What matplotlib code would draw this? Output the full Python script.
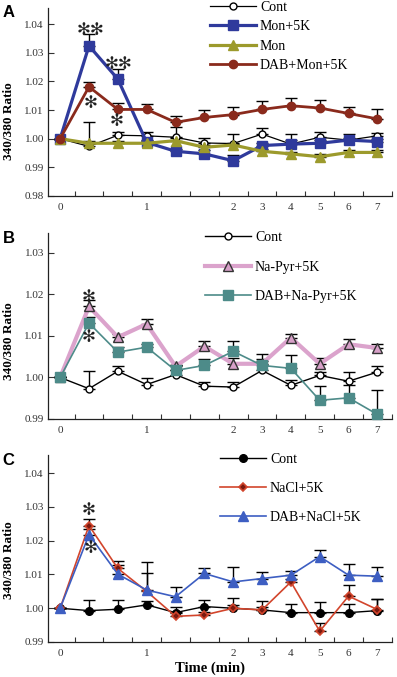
#!/usr/bin/env python3
"""340/380 ratio time courses, three panels (A, B, C)."""

import matplotlib

matplotlib.use("Agg")
import matplotlib.pyplot as plt
import numpy as np

TIME_MIN = [0, 1 / 3, 2 / 3, 1, 4 / 3, 5 / 3, 2, 3, 4, 5, 6, 7]
TIME_LABELS = ["0", "", "", "1", "", "", "2", "3", "4", "5", "6", "7"]

# Panel A
A_CONT = [1.000, 0.9973, 1.0012, 1.0010, 1.0005, 0.9985, 0.9983, 1.0016, 0.9981, 1.0005, 0.9995, 1.0010]
A_CONT_ERR = [0, 0.0084, 0.0013, 0.0012, 0.0034, 0.0016, 0.0035, 0.0020, 0.0035, 0.0019, 0.0023, 0.0010]
A_MON5K = [1.000, 1.0324, 1.0208, 0.9987, 0.9956, 0.9947, 0.9923, 0.9976, 0.9981, 0.9984, 0.9995, 0.9990]
A_MON5K_ERR = [0, 0.0041, 0.0035, 0.0010, 0.0008, 0.0012, 0.0020, 0.0010, 0.0015, 0.0012, 0.0008, 0.0010]
A_MON = [1.000, 0.9984, 0.9984, 0.9984, 0.9993, 0.9970, 0.9978, 0.9956, 0.9947, 0.9937, 0.9952, 0.9952]
A_MON_ERR = [0, 0.0008, 0.0008, 0.0008, 0.0008, 0.0008, 0.0008, 0.0008, 0.0008, 0.0008, 0.0008, 0.0008]
A_DAB = [1.000, 1.0181, 1.0102, 1.0102, 1.0057, 1.0074, 1.0084, 1.0102, 1.0115, 1.0107, 1.0088, 1.0069]
A_DAB_ERR = [0, 0.0017, 0.0024, 0.0020, 0.0021, 0.0026, 0.0027, 0.0030, 0.0027, 0.0028, 0.0023, 0.0034]

# Panel B
B_CONT = [1.000, 0.9973, 1.0015, 0.9983, 1.0007, 0.9979, 0.9977, 1.0017, 0.9981, 1.0005, 0.9991, 1.0013]
B_CONT_ERR = [0, 0.0042, 0.0012, 0.0016, 0.0010, 0.0011, 0.0013, 0.0040, 0.0013, 0.0008, 0.0022, 0.0014]
B_NAPYR = [1.000, 1.0171, 1.0097, 1.0129, 1.0027, 1.0075, 1.0033, 1.0033, 1.0096, 1.0033, 1.0080, 1.0071]
B_NAPYR_ERR = [0, 0.0016, 0.0008, 0.0012, 0.0004, 0.0012, 0.0014, 0.0006, 0.0009, 0.0014, 0.0013, 0.0010]
B_DAB = [1.000, 1.0131, 1.0061, 1.0073, 1.0017, 1.0029, 1.0063, 1.0029, 1.0022, 0.9945, 0.9951, 0.9911]
B_DAB_ERR = [0, 0.0014, 0.0012, 0.0008, 0.0012, 0.0016, 0.0024, 0.0016, 0.0031, 0.0034, 0.0032, 0.0058]

# Panel C
C_CONT = [1.000, 0.9993, 0.9997, 1.0010, 0.9987, 1.0005, 1.0000, 0.9995, 0.9987, 0.9987, 0.9987, 0.9993]
C_CONT_ERR = [0, 0.0032, 0.0028, 0.0012, 0.0018, 0.0019, 0.0029, 0.0026, 0.0027, 0.0032, 0.0025, 0.0033]
C_NACL = [1.000, 1.0245, 1.0118, 1.0050, 0.9976, 0.9980, 1.0000, 0.9995, 1.0078, 0.9932, 1.0036, 0.9996]
C_NACL_ERR = [0, 0.0019, 0.0023, 0.0055, 0.0012, 0.0010, 0.0010, 0.0010, 0.0010, 0.0024, 0.0032, 0.0030]
C_DAB = [1.000, 1.0218, 1.0101, 1.0054, 1.0034, 1.0103, 1.0078, 1.0088, 1.0098, 1.0153, 1.0098, 1.0095]
C_DAB_ERR = [0, 0.0017, 0.0027, 0.0084, 0.0030, 0.0015, 0.0045, 0.0018, 0.0013, 0.0020, 0.0033, 0.0028]

# significance marks: (x index, y value, text)
A_STARS = [(1.04, 1.0378, "✻✻"), (2.04, 1.0261, "✻✻"), (1.04, 1.0125, "✻"), (1.97, 1.0063, "✻")]
B_STARS = [(1.0, 1.0193, "✻"), (1.0, 1.0097, "✻")]
C_STARS = [(1.0, 1.0292, "✻"), (1.07, 1.0178, "✻")]

SERIF = "Liberation Serif"

PANELS = [
    {
        "letter": "A",
        "rect": (0.121, 0.7105, 0.866, 0.2777),
        "ylim": (0.98, 1.0456),
        "yticks": [0.98, 0.99, 1.00, 1.01, 1.02, 1.03, 1.04],
        "ylabel_y": 0.40,
        "series": [
            ("Cont", A_CONT, A_CONT_ERR,
             dict(color="black", lw=0.9, marker="o", ms=5, mfc="white", mec="black", mew=1.0)),
            ("Mon+5K", A_MON5K, A_MON5K_ERR,
             dict(color="#2f3a9c", lw=2.3, marker="s", ms=6.5, mfc="#2f3a9c", mec="#2f3a9c")),
            ("Mon", A_MON, A_MON_ERR,
             dict(color="#9c9a2c", lw=2.3, marker="^", ms=7, mfc="#9c9a2c", mec="#9c9a2c")),
            ("DAB+Mon+5K", A_DAB, A_DAB_ERR,
             dict(color="#8a2a1c", lw=2.0, marker="o", ms=6, mfc="#8a2a1c", mec="#8a2a1c")),
        ],
        "stars": A_STARS,
        "legend_anchor": (210 / 397, 1 - 1 / 677),
        "labelspacing": 0.45,
    },
    {
        "letter": "B",
        "rect": (0.121, 0.3811, 0.866, 0.2747),
        "ylim": (0.99, 1.0348),
        "yticks": [0.99, 1.00, 1.01, 1.02, 1.03],
        "ylabel_y": 0.42,
        "series": [
            ("Cont", B_CONT, B_CONT_ERR,
             dict(color="black", lw=1.0, marker="o", ms=5, mfc="white", mec="black", mew=1.0)),
            ("Na-Pyr+5K", B_NAPYR, B_NAPYR_ERR,
             dict(color="#dba3cc", lw=3.0, marker="^", ms=7, mfc="#d7a0c8", mec="#333333", mew=1.0)),
            ("DAB+Na-Pyr+5K", B_DAB, B_DAB_ERR,
             dict(color="#4d8b89", lw=1.2, marker="s", ms=6.5, mfc="#4d8b89", mec="#4d8b89")),
        ],
        "stars": B_STARS,
        "legend_anchor": (205 / 397, 1 - 231 / 677),
        "labelspacing": 1.2,
    },
    {
        "letter": "C",
        "rect": (0.121, 0.0517, 0.866, 0.2762),
        "ylim": (0.99, 1.0454),
        "yticks": [0.99, 1.00, 1.01, 1.02, 1.03, 1.04],
        "ylabel_y": 0.44,
        "series": [
            ("Cont", C_CONT, C_CONT_ERR,
             dict(color="black", lw=1.0, marker="o", ms=5.5, mfc="black", mec="black")),
            ("NaCl+5K", C_NACL, C_NACL_ERR,
             dict(color="#d2452c", lw=1.2, marker="D", ms=4.5, mfc="#7a1a10", mec="#d2452c", mew=1.2)),
            ("DAB+NaCl+5K", C_DAB, C_DAB_ERR,
             dict(color="#3d5ec2", lw=1.2, marker="^", ms=7, mfc="#3d5ec2", mec="#3d5ec2")),
        ],
        "stars": C_STARS,
        "legend_anchor": (220 / 397, 1 - 453 / 677),
        "labelspacing": 1.15,
    },
]


def _style_axis(ax, panel) -> None:
    n = len(TIME_MIN)
    ax.set_xlim(-0.42, n - 0.5)
    ax.set_ylim(*panel["ylim"])
    ax.set_xticks(np.arange(n))
    ax.set_xticklabels(TIME_LABELS, fontfamily=SERIF, fontsize=8, color="#333333")
    ax.set_xticks(np.arange(n) + 0.5, minor=True)
    ax.tick_params(axis="x", which="major", length=0, pad=5)
    ax.tick_params(axis="x", which="minor", direction="in", length=3.8, width=0.8, color="#333333")
    ax.set_yticks(panel["yticks"])
    ax.set_yticklabels([f"{v:.2f}" for v in panel["yticks"]], fontfamily=SERIF, fontsize=8, color="#333333")
    ax.tick_params(axis="y", direction="in", length=4, width=0.8, color="#333333", pad=3)
    for side in ("top", "right"):
        ax.spines[side].set_visible(False)
    for side in ("left", "bottom"):
        ax.spines[side].set_linewidth(0.9)
        ax.spines[side].set_color("#222222")
    ax.set_ylabel("340/380 Ratio", fontfamily=SERIF, fontsize=9.5, fontweight="bold")
    ax.yaxis.set_label_coords(-0.096, panel["ylabel_y"])


def main() -> None:
    fig = plt.figure(figsize=(3.97, 6.77), dpi=100)
    x = np.arange(len(TIME_MIN))

    for panel in PANELS:
        ax = fig.add_axes(panel["rect"])
        handles = []
        for label, y, err, style in panel["series"]:
            y = np.array(y)
            err = np.array(err)
            ax.errorbar(x, y, yerr=[np.zeros_like(err), err], fmt="none", ecolor="black",
                        elinewidth=1.0, capsize=4, capthick=1.0, zorder=1)
            (line,) = ax.plot(x, y, label=label, clip_on=False, zorder=3, **style)
            handles.append(line)

        for sx, sy, txt in panel["stars"]:
            ax.text(sx, sy, txt, ha="center", va="center", fontsize=12,
                    family="DejaVu Sans", color="#222222", zorder=4)

        _style_axis(ax, panel)

        fig.legend(handles=handles, loc="upper left", bbox_to_anchor=panel["legend_anchor"],
                   frameon=False, borderpad=0, borderaxespad=0, handlelength=3.3,
                   handletextpad=0.3, labelspacing=panel["labelspacing"],
                   prop={"family": SERIF, "size": 10}, numpoints=1)

        top = 1 - panel["rect"][1] - panel["rect"][3]
        fig.text(8.5 / 397, 1 - top - 5 / 677, panel["letter"], ha="center", va="center",
                 fontsize=12, fontweight="bold", family="Liberation Sans")

    fig.text(210 / 397, 1 - 668 / 677, "Time (min)", ha="center", va="center",
             fontsize=10.5, fontweight="bold", family=SERIF)

    fig.savefig("out.png", dpi=100)


if __name__ == "__main__":
    main()
